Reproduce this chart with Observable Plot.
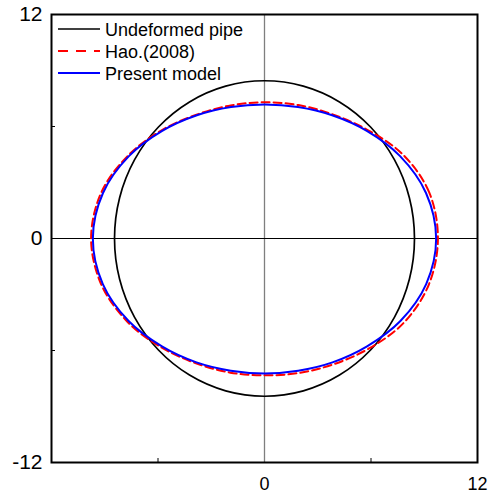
<!DOCTYPE html>
<html><head><meta charset="utf-8">
<script src="https://cdn.jsdelivr.net/npm/d3@7"></script>
<script src="https://cdn.jsdelivr.net/npm/@observablehq/plot@0.6"></script>
<style>
body{margin:0;background:#fff;}
#wrap{position:relative;width:488px;height:497px;font-family:"Liberation Sans",Arial,sans-serif;}
#legend{position:absolute;left:0;top:0;pointer-events:none;}
</style></head><body><div id="wrap"></div>
<script>
// Polar sampling angles (degrees) and radii
const angles = [0,15,30,45,60,75,90,105,120,135,150,165,180,195,210,225,240,255,270,285,300,315,330,345];
const undeformedR = [8.45,8.45,8.45,8.45,8.45,8.45,8.45,8.45,8.45,8.45,8.45,8.45,8.45,8.45,8.45,8.45,8.45,8.45,8.45,8.45,8.45,8.45,8.45,8.45];
const haoR = [9.77,9.60,9.00,8.22,7.68,7.40,7.30,7.38,7.66,8.20,8.88,9.52,9.77,9.52,8.92,8.24,7.72,7.44,7.33,7.46,7.78,8.33,9.05,9.58];
const presentR = [9.67,9.42,8.82,8.15,7.62,7.29,7.18,7.29,7.62,8.15,8.82,9.42,9.67,9.43,8.84,8.17,7.66,7.33,7.23,7.33,7.66,8.17,8.84,9.43];
const seriesNames = ["Undeformed pipe","Hao.(2008)","Present model"];
const seriesColors = ["black","red","blue"];
const xTickValues = [0,12];
const yTickValues = [-12,0,12];
const minorTicks = [-6,6];

function toXY(r){
  return angles.map((a,i)=>({x:r[i]*Math.cos(a*Math.PI/180), y:r[i]*Math.sin(a*Math.PI/180)}));
}

const chart = Plot.plot({
  width:488, height:497,
  marginLeft:51, marginRight:11, marginTop:14, marginBottom:35,
  x:{domain:[-12,12], label:null}, y:{domain:[-12,12], label:null},
  style:{fontFamily:'"Liberation Sans",Arial,sans-serif', background:"white", color:"black"},
  marks:[
    Plot.ruleX([0],{stroke:"#7f7f7f", strokeWidth:1.3}),
    Plot.ruleY([0],{stroke:"black", strokeWidth:1.2}),
    Plot.line(toXY(undeformedR),{x:"x",y:"y",curve:"catmull-rom-closed",stroke:seriesColors[0],strokeWidth:1.7}),
    Plot.line(toXY(haoR),{x:"x",y:"y",curve:"catmull-rom-closed",stroke:seriesColors[1],strokeWidth:2,strokeDasharray:"8,4"}),
    Plot.line(toXY(presentR),{x:"x",y:"y",curve:"catmull-rom-closed",stroke:seriesColors[2],strokeWidth:2}),
    Plot.frame({stroke:"black", strokeWidth:2}),
    Plot.axisX(minorTicks,{anchor:"bottom", tickSize:-4, tickFormat:()=>"", label:null, strokeWidth:1}),
    Plot.axisY(minorTicks,{anchor:"left", tickSize:-4, tickFormat:()=>"", label:null, strokeWidth:1}),
    Plot.axisX(xTickValues,{anchor:"bottom", tickSize:0, tickPadding:15, fontSize:18, label:null, tickFormat:d=>String(d)}),
    Plot.axisY(yTickValues,{anchor:"left", tickSize:0, tickPadding:9, fontSize:21, label:null, tickFormat:d=>String(d)})
  ]
});
const wrap = document.getElementById("wrap");
wrap.appendChild(chart);

// Legend overlay
const leg = d3.select(wrap).append("svg").attr("id","legend").attr("width",488).attr("height",100);
seriesNames.forEach((name,i)=>{
  const cy = 29 + i*22;
  leg.append("line").attr("x1",58).attr("x2",100).attr("y1",cy).attr("y2",cy)
    .attr("stroke",seriesColors[i]).attr("stroke-width",i===0?1.7:2)
    .attr("stroke-dasharray",i===1?"10,8":null);
  leg.append("text").attr("x",105).attr("y",cy+6.5).text(name)
    .attr("font-size",18).attr("font-family",'"Liberation Sans",Arial,sans-serif').attr("fill","black");
});
</script>
</body></html>
